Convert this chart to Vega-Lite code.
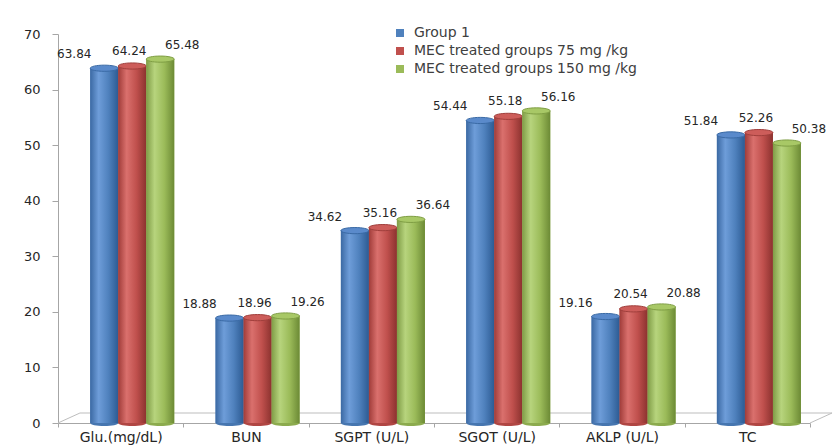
{
  "$schema": "https://vega.github.io/schema/vega-lite/v6.json",
  "width": 752,
  "height": 389,
  "autosize": {"type": "none"},
  "padding": {"left": 58, "top": 34, "right": 23, "bottom": 22},
  "background": "white",
  "config": {
    "view": {"stroke": null},
    "font": "DejaVu Sans",
    "legend": {
      "orient": "none",
      "legendX": 335,
      "legendY": -8,
      "title": null,
      "symbolType": "square",
      "symbolSize": 64,
      "symbolStrokeWidth": 0,
      "labelFontSize": 14,
      "labelLimit": 400,
      "labelColor": "#404040",
      "labelFont": "DejaVu Sans",
      "rowPadding": 4,
      "labelOffset": 7
    }
  },
  "data": {
    "values": [
      {"test": "Glu.(mg/dL)", "group": "Group 1", "value": 63.84},
      {"test": "Glu.(mg/dL)", "group": "MEC treated groups 75 mg /kg", "value": 64.24},
      {"test": "Glu.(mg/dL)", "group": "MEC treated groups 150 mg /kg", "value": 65.48},
      {"test": "BUN", "group": "Group 1", "value": 18.88},
      {"test": "BUN", "group": "MEC treated groups 75 mg /kg", "value": 18.96},
      {"test": "BUN", "group": "MEC treated groups 150 mg /kg", "value": 19.26},
      {"test": "SGPT (U/L)", "group": "Group 1", "value": 34.62},
      {"test": "SGPT (U/L)", "group": "MEC treated groups 75 mg /kg", "value": 35.16},
      {"test": "SGPT (U/L)", "group": "MEC treated groups 150 mg /kg", "value": 36.64},
      {"test": "SGOT (U/L)", "group": "Group 1", "value": 54.44},
      {"test": "SGOT (U/L)", "group": "MEC treated groups 75 mg /kg", "value": 55.18},
      {"test": "SGOT (U/L)", "group": "MEC treated groups 150 mg /kg", "value": 56.16},
      {"test": "AKLP (U/L)", "group": "Group 1", "value": 19.16},
      {"test": "AKLP (U/L)", "group": "MEC treated groups 75 mg /kg", "value": 20.54},
      {"test": "AKLP (U/L)", "group": "MEC treated groups 150 mg /kg", "value": 20.88},
      {"test": "TC", "group": "Group 1", "value": 51.84},
      {"test": "TC", "group": "MEC treated groups 75 mg /kg", "value": 52.26},
      {"test": "TC", "group": "MEC treated groups 150 mg /kg", "value": 50.38}
    ]
  },
  "encoding": {
    "x": {
      "field": "test",
      "type": "nominal",
      "scale": {
        "domain": ["Glu.(mg/dL)", "BUN", "SGPT (U/L)", "SGOT (U/L)", "AKLP (U/L)", "TC"],
        "paddingInner": 0,
        "paddingOuter": 0
      },
      "axis": {
        "title": null,
        "tickBand": "extent",
        "labelAngle": 0,
        "domainColor": "#A6A6A6",
        "tickColor": "#A6A6A6",
        "tickSize": 4,
        "labelPadding": 3,
        "labelFontSize": 14,
        "labelColor": "#262626",
        "labelFont": "DejaVu Sans"
      }
    },
    "y": {
      "field": "value",
      "type": "quantitative",
      "scale": {"domain": [0, 70], "nice": false},
      "axis": {
        "title": null,
        "values": [0, 10, 20, 30, 40, 50, 60, 70],
        "grid": false,
        "domainColor": "#A6A6A6",
        "tickColor": "#A6A6A6",
        "tickSize": 6,
        "labelPadding": 12,
        "labelFontSize": 13,
        "labelColor": "#262626",
        "labelFont": "DejaVu Sans"
      }
    }
  },
  "layer": [
    {
      "description": "floor of the 3-D plot: back edge and the two side edges",
      "transform": [{"filter": "datum.test === 'Glu.(mg/dL)' && datum.group === 'Group 1'"}],
      "layer": [
        {
          "mark": {"type": "rule", "color": "#BDBDBD", "strokeWidth": 1, "xOffset": -40.7, "x2Offset": 84.7, "yOffset": -10, "y2Offset": -10},
          "encoding": {
            "x": {"datum": "Glu.(mg/dL)", "type": "nominal"},
            "x2": {"datum": "TC"},
            "y": {"datum": 0, "type": "quantitative"},
            "y2": {"datum": 0}
          }
        },
        {
          "mark": {"type": "rule", "color": "#BDBDBD", "strokeWidth": 1, "xOffset": -62.7, "x2Offset": -40.7, "y2Offset": -10},
          "encoding": {
            "x": {"datum": "Glu.(mg/dL)", "type": "nominal"},
            "x2": {"datum": "Glu.(mg/dL)"},
            "y": {"datum": 0, "type": "quantitative"},
            "y2": {"datum": 0}
          }
        },
        {
          "mark": {"type": "rule", "color": "#BDBDBD", "strokeWidth": 1, "xOffset": 62.7, "x2Offset": 84.7, "y2Offset": -10},
          "encoding": {
            "x": {"datum": "TC", "type": "nominal"},
            "x2": {"datum": "TC"},
            "y": {"datum": 0, "type": "quantitative"},
            "y2": {"datum": 0}
          }
        }
      ]
    },
    {
      "mark": {"type": "bar"},
      "encoding": {
        "xOffset": {
          "field": "group",
          "type": "nominal",
          "scale": {
            "domain": ["Group 1", "MEC treated groups 75 mg /kg", "MEC treated groups 150 mg /kg"],
            "paddingInner": 0,
            "paddingOuter": 0.7375,
            "align": 0.78
          }
        },
        "color": {
          "field": "group",
          "type": "nominal",
          "scale": {
            "domain": ["Group 1", "MEC treated groups 75 mg /kg", "MEC treated groups 150 mg /kg"],
            "range": ["#4F81BD", "#C0504D", "#9BBB59"]
          }
        }
      }
    },
    {
      "transform": [{"filter": "datum.group === 'Group 1'"}],
      "encoding": {"xOffset": {"field": "group", "type": "nominal"}},
      "layer": [
        {
          "mark": {
            "type": "bar",
            "fill": {
              "gradient": "linear", "x1": 0, "y1": 0, "x2": 1, "y2": 0,
              "stops": [
                {"offset": 0, "color": "#3B69A3"},
                {"offset": 0.3, "color": "#6E9DD9"},
                {"offset": 0.65, "color": "#4F81BD"},
                {"offset": 1, "color": "#2D5B93"}
              ]
            }
          }
        },
        {
          "mark": {"type": "point", "shape": "M-1,0A1,0.22,0,0,0,1,0Z", "size": 784, "filled": true, "opacity": 1, "fill": "#4676B0", "strokeWidth": 0},
          "encoding": {"y": {"datum": 0, "type": "quantitative"}}
        },
        {
          "mark": {"type": "point", "shape": "M-1,0A1,0.22,0,1,1,1,0A1,0.22,0,1,1,-1,0Z", "size": 784, "filled": true, "opacity": 1, "fill": "#5A8ACB", "stroke": "#3A6AA5", "strokeWidth": 1}
        },
        {
          "mark": {"type": "text", "dx": -30, "dy": -14, "baseline": "middle", "fontSize": 12, "font": "DejaVu Sans", "color": "#262626"},
          "encoding": {"text": {"field": "value", "type": "quantitative", "format": ".2f"}}
        }
      ]
    },
    {
      "transform": [{"filter": "datum.group === 'MEC treated groups 75 mg /kg'"}],
      "encoding": {"xOffset": {"field": "group", "type": "nominal"}},
      "layer": [
        {
          "mark": {
            "type": "bar",
            "fill": {
              "gradient": "linear", "x1": 0, "y1": 0, "x2": 1, "y2": 0,
              "stops": [
                {"offset": 0, "color": "#A03C39"},
                {"offset": 0.3, "color": "#DA706D"},
                {"offset": 0.65, "color": "#C0504D"},
                {"offset": 1, "color": "#8C322F"}
              ]
            }
          }
        },
        {
          "mark": {"type": "point", "shape": "M-1,0A1,0.22,0,0,0,1,0Z", "size": 784, "filled": true, "opacity": 1, "fill": "#B04643", "strokeWidth": 0},
          "encoding": {"y": {"datum": 0, "type": "quantitative"}}
        },
        {
          "mark": {"type": "point", "shape": "M-1,0A1,0.22,0,1,1,1,0A1,0.22,0,1,1,-1,0Z", "size": 784, "filled": true, "opacity": 1, "fill": "#CD5D5A", "stroke": "#A03F3C", "strokeWidth": 1}
        },
        {
          "mark": {"type": "text", "dx": -3, "dy": -15, "baseline": "middle", "fontSize": 12, "font": "DejaVu Sans", "color": "#262626"},
          "encoding": {"text": {"field": "value", "type": "quantitative", "format": ".2f"}}
        }
      ]
    },
    {
      "transform": [{"filter": "datum.group === 'MEC treated groups 150 mg /kg'"}],
      "encoding": {"xOffset": {"field": "group", "type": "nominal"}},
      "layer": [
        {
          "mark": {
            "type": "bar",
            "fill": {
              "gradient": "linear", "x1": 0, "y1": 0, "x2": 1, "y2": 0,
              "stops": [
                {"offset": 0, "color": "#7F9C46"},
                {"offset": 0.3, "color": "#B7D47D"},
                {"offset": 0.65, "color": "#9BBB59"},
                {"offset": 1, "color": "#6C8A35"}
              ]
            }
          }
        },
        {
          "mark": {"type": "point", "shape": "M-1,0A1,0.22,0,0,0,1,0Z", "size": 784, "filled": true, "opacity": 1, "fill": "#8CAB4E", "strokeWidth": 0},
          "encoding": {"y": {"datum": 0, "type": "quantitative"}}
        },
        {
          "mark": {"type": "point", "shape": "M-1,0A1,0.22,0,1,1,1,0A1,0.22,0,1,1,-1,0Z", "size": 784, "filled": true, "opacity": 1, "fill": "#A8C866", "stroke": "#7F9E44", "strokeWidth": 1}
        },
        {
          "mark": {"type": "text", "dx": 22, "dy": -14, "baseline": "middle", "fontSize": 12, "font": "DejaVu Sans", "color": "#262626"},
          "encoding": {"text": {"field": "value", "type": "quantitative", "format": ".2f"}}
        }
      ]
    }
  ]
}
